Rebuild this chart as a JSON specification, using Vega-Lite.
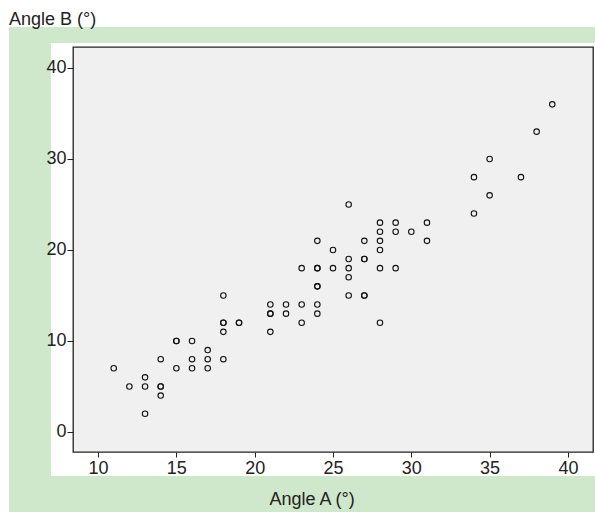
{
  "$schema": "https://vega.github.io/schema/vega-lite/v6.json",
  "background": "white",
  "padding": {"left": 9, "top": 11, "right": 0, "bottom": 0},
  "title": {"text": "Angle B (°)", "anchor": "start", "frame": "group", "font": "Liberation Sans", "fontSize": 18, "fontWeight": "normal", "color": "#222222", "offset": -2},
  "columns": 3,
  "spacing": 0,
  "bounds": "flush",
  "align": "each",
  "center": false,
  "config": {
    "view": {"stroke": null},
    "font": "Liberation Sans"
  },
  "datasets": {
    "angles": [
      {"a": 11, "b": 7}, {"a": 12, "b": 5}, {"a": 13, "b": 6}, {"a": 13, "b": 5}, {"a": 13, "b": 2},
      {"a": 14, "b": 5}, {"a": 14, "b": 5}, {"a": 14, "b": 4}, {"a": 14, "b": 8},
      {"a": 15, "b": 10}, {"a": 15, "b": 10}, {"a": 15, "b": 7},
      {"a": 16, "b": 10}, {"a": 16, "b": 8}, {"a": 16, "b": 7},
      {"a": 17, "b": 9}, {"a": 17, "b": 8}, {"a": 17, "b": 7},
      {"a": 18, "b": 15}, {"a": 18, "b": 12}, {"a": 18, "b": 12}, {"a": 18, "b": 11}, {"a": 18, "b": 8},
      {"a": 19, "b": 12}, {"a": 19, "b": 12},
      {"a": 21, "b": 14}, {"a": 21, "b": 13}, {"a": 21, "b": 13}, {"a": 21, "b": 11},
      {"a": 22, "b": 14}, {"a": 22, "b": 13},
      {"a": 23, "b": 18}, {"a": 23, "b": 14}, {"a": 23, "b": 12},
      {"a": 24, "b": 21}, {"a": 24, "b": 18}, {"a": 24, "b": 18}, {"a": 24, "b": 16}, {"a": 24, "b": 16}, {"a": 24, "b": 14}, {"a": 24, "b": 13},
      {"a": 25, "b": 20}, {"a": 25, "b": 18},
      {"a": 26, "b": 25}, {"a": 26, "b": 19}, {"a": 26, "b": 18}, {"a": 26, "b": 17}, {"a": 26, "b": 15},
      {"a": 27, "b": 21}, {"a": 27, "b": 19}, {"a": 27, "b": 19}, {"a": 27, "b": 15}, {"a": 27, "b": 15},
      {"a": 28, "b": 23}, {"a": 28, "b": 22}, {"a": 28, "b": 21}, {"a": 28, "b": 20}, {"a": 28, "b": 18}, {"a": 28, "b": 12},
      {"a": 29, "b": 23}, {"a": 29, "b": 22}, {"a": 29, "b": 18},
      {"a": 30, "b": 22},
      {"a": 31, "b": 23}, {"a": 31, "b": 21},
      {"a": 34, "b": 28}, {"a": 34, "b": 24},
      {"a": 35, "b": 30}, {"a": 35, "b": 26},
      {"a": 37, "b": 28}, {"a": 38, "b": 33}, {"a": 39, "b": 36}
    ],
    "empty": [],
    "xlabel": [{"label": "Angle A (°)"}]
  },
  "concat": [
    {"width": 42, "height": 16, "data": {"name": "empty"}, "mark": {"type": "point", "opacity": 0}, "view": {"fill": "#cfe7cb", "stroke": null}},
    {"width": 22, "height": 16, "data": {"name": "empty"}, "mark": {"type": "point", "opacity": 0}, "view": {"fill": "#cfe7cb", "stroke": null}},
    {"width": 522, "height": 16, "data": {"name": "empty"}, "mark": {"type": "point", "opacity": 0}, "view": {"fill": "#cfe7cb", "stroke": null}},

    {"width": 42, "height": 4, "data": {"name": "empty"}, "mark": {"type": "point", "opacity": 0}, "view": {"fill": "#cfe7cb", "stroke": null}},
    {"width": 22, "height": 4, "data": {"name": "empty"}, "mark": {"type": "point", "opacity": 0}, "view": {"fill": null, "stroke": null}},
    {"width": 522, "height": 4, "data": {"name": "empty"}, "mark": {"type": "point", "opacity": 0}, "view": {"fill": null, "stroke": null}},

    {"width": 42, "height": 429, "data": {"name": "empty"}, "mark": {"type": "point", "opacity": 0}, "view": {"fill": "#cfe7cb", "stroke": null}},
    {"width": 22, "height": 429, "data": {"name": "empty"}, "mark": {"type": "point", "opacity": 0}, "view": {"fill": null, "stroke": null}},
    {
      "width": 520,
      "height": 405,
      "data": {"name": "angles"},
      "view": {"fill": "#f0f0f0", "stroke": "#222222", "strokeWidth": 1.3},
      "mark": {"type": "point", "shape": "circle", "filled": false, "color": "#111111", "strokeWidth": 1.1, "size": 30, "opacity": 1},
      "encoding": {
        "x": {
          "field": "a", "type": "quantitative",
          "scale": {"domain": [8.4, 41.6], "nice": false, "zero": false},
          "axis": {"title": null, "values": [10, 15, 20, 25, 30, 35, 40], "grid": false, "domain": false,
                   "tickSize": 5, "tickColor": "#222222", "tickWidth": 1,
                   "labelFont": "Liberation Sans", "labelFontSize": 18, "labelColor": "#222222", "labelPadding": 2}
        },
        "y": {
          "field": "b", "type": "quantitative",
          "scale": {"domain": [-2.2, 42.3], "nice": false, "zero": false},
          "axis": {"title": null, "values": [0, 10, 20, 30, 40], "grid": false, "domain": false,
                   "tickSize": 6, "tickColor": "#222222", "tickWidth": 1,
                   "labelFont": "Liberation Sans", "labelFontSize": 18, "labelColor": "#222222", "labelPadding": 1}
        }
      }
    },

    {"width": 42, "height": 36, "data": {"name": "empty"}, "mark": {"type": "point", "opacity": 0}, "view": {"fill": "#cfe7cb", "stroke": null}},
    {"width": 22, "height": 36, "data": {"name": "empty"}, "mark": {"type": "point", "opacity": 0}, "view": {"fill": "#cfe7cb", "stroke": null}},
    {
      "width": 522, "height": 36,
      "data": {"name": "xlabel"},
      "view": {"fill": "#cfe7cb", "stroke": null},
      "mark": {"type": "text", "font": "Liberation Sans", "fontSize": 18, "color": "#222222", "dx": -22, "dy": 6},
      "encoding": {"text": {"field": "label", "type": "nominal"}}
    }
  ]
}
